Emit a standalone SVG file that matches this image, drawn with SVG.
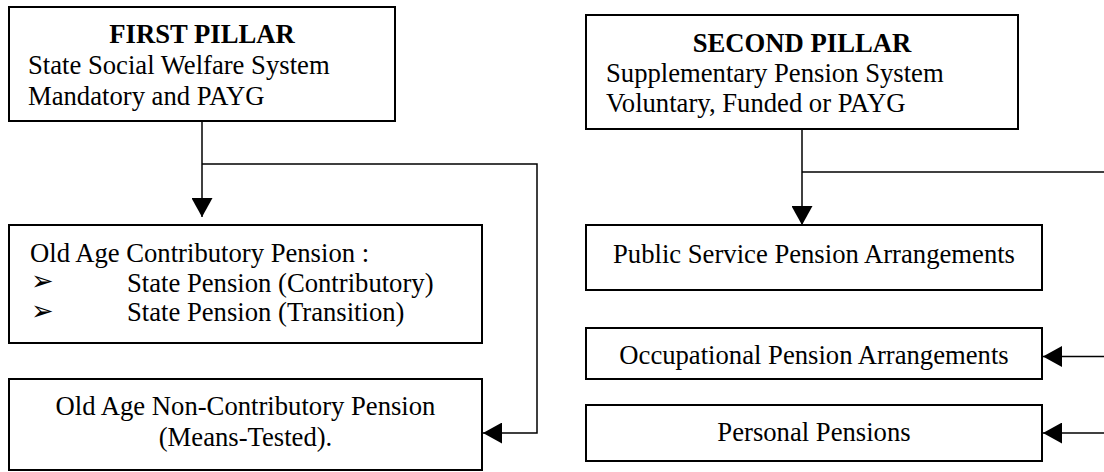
<svg xmlns="http://www.w3.org/2000/svg" width="1104" height="472" viewBox="0 0 1104 472">
  <style>
    .box { fill: #ffffff; stroke: #000000; stroke-width: 2; }
    .t { font-family: "Liberation Serif", "Times New Roman", serif; font-size: 26.67px; fill: #000000; }
    .b { font-weight: bold; }
    .c { text-anchor: middle; }
    .bul { font-family: "DejaVu Sans", "Noto Sans", sans-serif; font-size: 27px; fill: #000000; }
    .conn { fill: none; stroke: #000000; stroke-width: 1.5; }
  </style>
  <defs>
    <marker id="arrow" markerUnits="userSpaceOnUse" markerWidth="20" markerHeight="21" refX="19" refY="10.5" orient="auto" viewBox="0 0 20 21">
      <path d="M0,0 L19,10.5 L0,21 Z" fill="#000000"/>
    </marker>
  </defs>
  <rect width="1104" height="472" fill="#ffffff"/>

  <g id="first-pillar">
    <rect class="box" x="9" y="7" width="386" height="114"/>
    <text class="t b c" x="202" y="43">FIRST PILLAR</text>
    <text class="t" x="28" y="74">State Social Welfare System</text>
    <text class="t" x="28" y="104.5">Mandatory and PAYG</text>
  </g>

  <g id="old-age-contributory">
    <rect class="box" x="9" y="225" width="473" height="118"/>
    <text class="t" x="30" y="262">Old Age Contributory Pension :</text>
    <text class="bul" x="31" y="290">➢</text>
    <text class="t" x="127" y="291.5">State Pension (Contributory)</text>
    <text class="bul" x="31" y="319.5">➢</text>
    <text class="t" x="127" y="321">State Pension (Transition)</text>
  </g>

  <g id="old-age-non-contributory">
    <rect class="box" x="9" y="379" width="473" height="91"/>
    <text class="t c" x="245.5" y="415">Old Age Non-Contributory Pension</text>
    <text class="t c" x="245.5" y="445.5">(Means-Tested).</text>
  </g>

  <g id="second-pillar">
    <rect class="box" x="586" y="15" width="432" height="114"/>
    <text class="t b c" x="802" y="51.5">SECOND PILLAR</text>
    <text class="t" x="606" y="82">Supplementary Pension System</text>
    <text class="t" x="606" y="112">Voluntary, Funded or PAYG</text>
  </g>

  <g id="public-service">
    <rect class="box" x="586" y="225" width="456" height="65"/>
    <text class="t c" x="814" y="263">Public Service Pension Arrangements</text>
  </g>

  <g id="occupational">
    <rect class="box" x="586" y="328" width="456" height="51"/>
    <text class="t c" x="814" y="364">Occupational Pension Arrangements</text>
  </g>

  <g id="personal">
    <rect class="box" x="586" y="405" width="456" height="56"/>
    <text class="t c" x="814" y="441">Personal Pensions</text>
  </g>

  <g id="connectors">
    <path class="conn" d="M202,121 L202,217" marker-end="url(#arrow)"/>
    <path class="conn" d="M202,164 L537,164 L537,433 L483,433" marker-end="url(#arrow)"/>
    <path class="conn" d="M802,129 L802,225" marker-end="url(#arrow)"/>
    <path class="conn" d="M802,172 L1104,172"/>
    <path class="conn" d="M1104,356.5 L1043,356.5" marker-end="url(#arrow)"/>
    <path class="conn" d="M1104,433 L1043,433" marker-end="url(#arrow)"/>
  </g>
</svg>
